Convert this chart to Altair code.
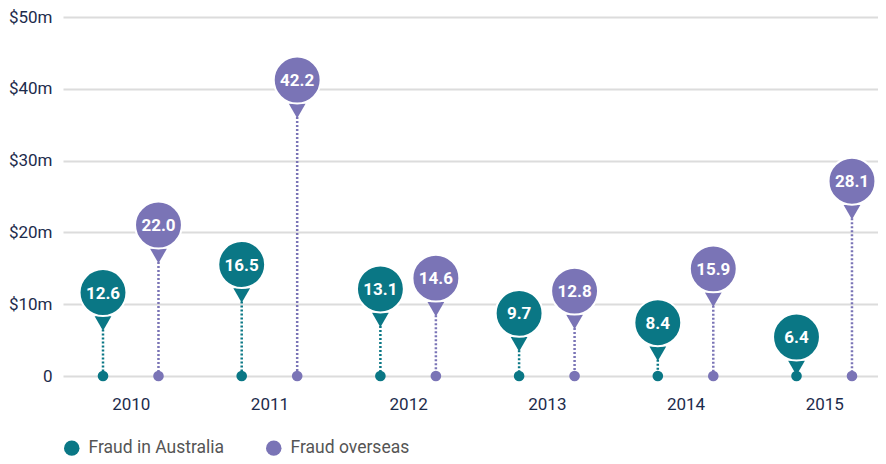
import altair as alt
import pandas as pd

years = [2010, 2011, 2012, 2013, 2014, 2015]
fraud_australia = [12.6, 16.5, 13.1, 9.7, 8.4, 6.4]
fraud_overseas = [22.0, 42.2, 14.6, 12.8, 15.9, 28.1]
series_names = ["Fraud in Australia", "Fraud overseas"]
series_offsets = [-0.2, 0.2]
colors = ["#0a7785", "#7a74b6"]
y_ticks = [0, 10, 20, 30, 40, 50]

rows = []
for name, off, vals in zip(series_names, series_offsets, [fraud_australia, fraud_overseas]):
    for yr, v in zip(years, vals):
        rows.append({"year": yr, "series": name, "value": v,
                     "pos": yr + off, "label": f"{v:.1f}"})
df = pd.DataFrame(rows)

FONT = "Roboto"
NAVY = "#1d2c4c"

x_enc = alt.X("pos:Q",
              scale=alt.Scale(domain=[2009.5116, 2015.3876], nice=False, zero=False),
              axis=alt.Axis(values=years, format="d", title=None, grid=False,
                            domain=False, ticks=False, labelFontSize=17,
                            labelColor=NAVY, labelFont=FONT, labelPadding=20))
y_enc = alt.Y("value:Q",
              scale=alt.Scale(domain=[0, 50], nice=False),
              axis=alt.Axis(values=y_ticks, title=None, domain=False, ticks=False,
                            grid=True, gridColor="#dcdcdc", gridWidth=2,
                            labelFontSize=17, labelColor=NAVY, labelFont=FONT,
                            labelPadding=11,
                            labelExpr="datum.value == 0 ? '0' : '$' + datum.value + 'm'"))
legend_spec = alt.Legend(title=None, orient="none", legendX=0, legendY=422,
                         direction="horizontal", symbolType="circle",
                         symbolSize=240, symbolStrokeWidth=0,
                         labelFontSize=17.5, labelFont=FONT,
                         labelColor="#555555", labelOffset=8,
                         columnPadding=40)
color_enc = alt.Color("series:N", scale=alt.Scale(domain=series_names, range=colors),
                      legend=legend_spec)

base = alt.Chart(df)

rules = base.mark_rule(strokeDash=[2, 2], strokeWidth=2.5).encode(
    x=x_enc, y=y_enc, y2=alt.datum(0), color=color_enc)

dots = base.mark_circle(size=113, opacity=1).encode(
    x=x_enc, y=alt.datum(0), color=color_enc)

tris = base.mark_point(shape="triangle-down", filled=True, size=280, opacity=1,
                       yOffset=38).encode(x=x_enc, y=y_enc, color=color_enc)

bubbles = base.mark_circle(size=2200, opacity=1, stroke="white", strokeWidth=2,
                           yOffset=7).encode(x=x_enc, y=y_enc, color=color_enc)

labels = base.mark_text(color="white", fontWeight="bold", fontSize=17, font=FONT,
                        yOffset=8).encode(x=x_enc, y=y_enc, text="label:N")

chart = alt.layer(rules, dots, tris, bubbles, labels).properties(
    width=815, height=359,
    padding={"left": 55, "top": 9, "right": 0, "bottom": 80},
    autosize=alt.AutoSizeParams(type="none"),
).configure_view(stroke=None)

chart.save("out.html", embed_options={"renderer": "svg", "actions": False})
